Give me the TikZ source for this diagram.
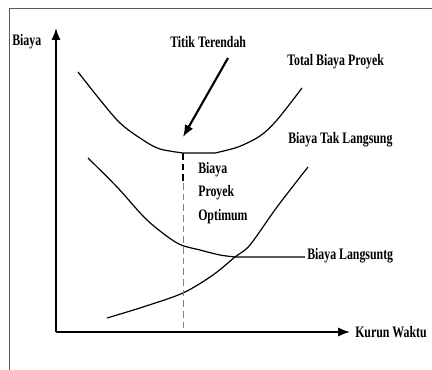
\documentclass[tikz,border=0pt]{standalone}
\usepackage{fontspec}
\setmainfont[FakeStretch=0.74]{Liberation Serif}
\usetikzlibrary{arrows.meta,positioning}

\begin{document}
\begin{tikzpicture}[x=0.75pt,y=-0.75pt,
  lbl/.style={font=\bfseries\fontsize{12}{14}\selectfont,inner sep=0pt},
  curve/.style={line width=0.9pt},
  axis/.style={line width=1.4pt,-{Latex[length=9pt,width=7pt]}}]
      \useasboundingbox (0,0) rectangle (432,370);
      \draw[gray!70!black,line width=0.6pt] (9,370) -- (9,8) -- (432,8);
      % axes
      \coordinate (O) at (56,332);
      \coordinate (ytip) at (56,28);
      \coordinate (xtip) at (350,332);
      \draw[axis] (O) -- (ytip);
      \draw[axis] (O) -- (xtip);
      \node[lbl,anchor=west](biaya) at (12,42){Biaya};
      \node[lbl,anchor=west](waktu) at (355,332){Kurun Waktu};
      % curves
      \coordinate (low) at (183,153);
      \coordinate (cross) at (235,257);
      \draw[curve] plot[smooth] coordinates{(78,72) (117,120) (143,140) (160,149) (183,153)}
        -- (215,153) plot[smooth] coordinates{(215,153) (238,147) (260,136) (277,120) (302,88)};
      \draw[curve] plot[smooth] coordinates{(88,158) (118,188) (147,220) (177,243) (200,250) (220,255) (cross)}
        -- (305,257);
      \draw[curve] plot[smooth] coordinates{(107,318) (143,307) (183,293) (213,275) (cross) (250,245) (277,207) (308,167)};
      % optimum
      \coordinate (opt) at (183,183);
      \draw[line width=1.3pt,dash pattern=on 5pt off 3pt] (low) -- (opt);
      \draw[gray,line width=0.5pt,dash pattern=on 5pt off 3pt] (opt) -- (O -| opt);
      \node[lbl,anchor=west](titik) at (170,42){Titik Terendah};
      \coordinate (tstart) at (228,58);
      \draw[line width=1.6pt,-{Latex[length=9pt,width=7pt]}] (tstart) -- (183,137);
      \node[lbl,anchor=west](total) at (287,62){Total Biaya Proyek};
      \node[lbl,anchor=west](tak) at (288,140){Biaya Tak Langsung};
      \node[lbl,anchor=west](lang) at (307,256){Biaya Langsuntg};
      \node[lbl,anchor=north west,align=left,font=\bfseries\fontsize{12}{17.5}\selectfont](optimum) at (198,162){Biaya\\Proyek\\Optimum};
    \end{tikzpicture}
\end{document}
